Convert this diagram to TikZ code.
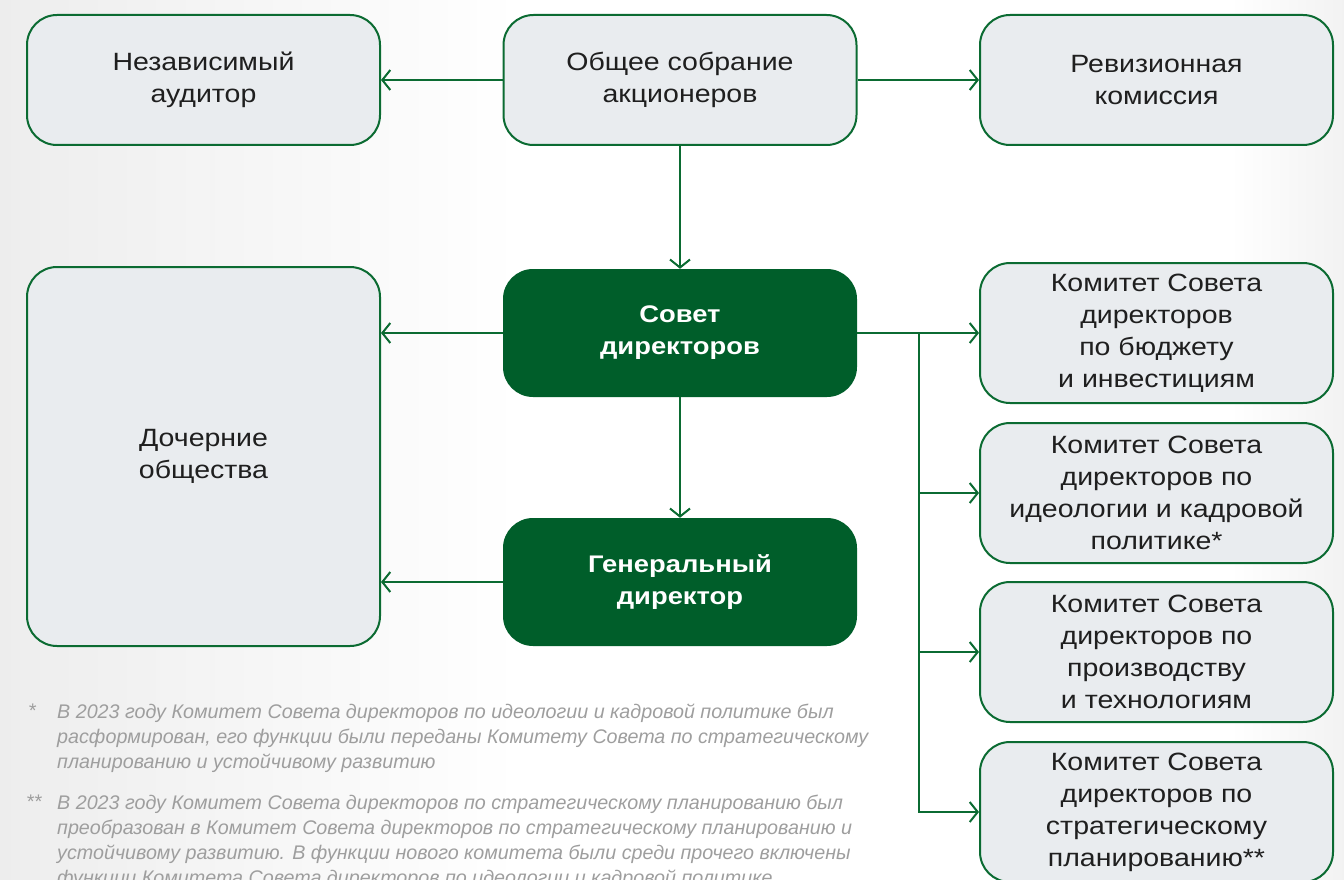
\documentclass[tikz,border=0pt]{standalone}
\usepackage{fontspec}
\setmainfont{Liberation Sans}
\newfontfamily\boxfont[FakeStretch=1.14]{Liberation Sans}
\newfontfamily\notefont{Liberation Sans}
\usetikzlibrary{arrows.meta}
\definecolor{linegreen}{HTML}{0B6B32}
\definecolor{darkgreen}{HTML}{005E2A}
\definecolor{boxfill}{HTML}{E9ECEF}
\definecolor{notegray}{HTML}{9E9E9E}

\begin{document}
\begin{tikzpicture}[x=1pt,y=-1pt,
    box/.style={draw=linegreen, line width=2pt, fill=boxfill, rounded corners=30pt,
      align=center, inner sep=0pt, text=black!88, font=\boxfont\fontsize{25}{32}\selectfont,
      minimum width=353pt},
    mainbox/.style={fill=darkgreen, rounded corners=30pt, align=center, inner sep=0pt,
      text=white, font=\boxfont\fontsize{24}{32}\selectfont\bfseries, minimum width=354pt},
    link/.style={draw=linegreen, line width=2pt,
      -{Straight Barb[length=8pt,width=20pt,line width=2pt]}},
    note/.style={anchor=north west, align=left, inner sep=0pt, text=notegray,
      font=\notefont\itshape\fontsize{19.7}{25}\selectfont}]
    \useasboundingbox (0,0) rectangle (1344,880);
    % background
    \shade[left color=black!7, right color=white] (0,0) rectangle (520,880);
    \shade[left color=white, right color=black!5] (1230,0) rectangle (1344,880);

    % top row
    \node[box, minimum height=130pt] (aud) at (203.5,80) {Независимый\\аудитор};
    \node[box, minimum height=130pt] (gms) at (680,80) {Общее собрание\\акционеров};
    \node[box, minimum height=130pt] (rev) at (1156.5,80) {Ревизионная\\комиссия};

    % middle column
    \node[mainbox, minimum height=128pt] (board) at (680,333) {Совет\\директоров};
    \node[mainbox, minimum height=128pt] (ceo) at (680,582) {Генеральный\\директор};
    \node[box, minimum height=379pt] (subs) at (203.5,456.5) {Дочерние\\общества};

    % committees
    \node[box, minimum height=140pt] (c1) at (1156.5,333) {Комитет Совета\\директоров\\по бюджету\\и инвестициям};
    \node[box, minimum height=140pt] (c2) at (1156.5,493) {Комитет Совета\\директоров по\\идеологии и кадровой\\политике*};
    \node[box, minimum height=140pt] (c3) at (1156.5,652) {Комитет Совета\\директоров по\\производству\\и технологиям};
    \node[box, minimum height=140pt] (c4) at (1156.5,812) {Комитет Совета\\директоров по\\стратегическому\\планированию**};
    \coordinate (fork) at (919,333);

    \draw[link] (gms) -- (aud);
    \draw[link] (gms) -- (rev);
    \draw[link] (gms) -- (board);
    \draw[link] (board) -- (ceo);
    \draw[link] (board.west) -- (board.west -| subs.east);
    \draw[link] (ceo.west) -- (ceo.west -| subs.east);
    \draw[link] (board.east) -- (c1.west);
    \foreach \c in {c2,c3,c4}
        \draw[link] (fork) |- (\c.west);

    % footnotes
    \node[note] (star1) at (28,704) {*};
    \node[note] (note1) at (57,704) {В 2023 году Комитет Совета директоров по идеологии и кадровой политике был\\
        расформирован, его функции были переданы Комитету Совета по стратегическому\\
        планированию и устойчивому развитию};
    \node[note] (star2) at (26,795) {**};
    \node[note] (note2) at (57,795) {В 2023 году Комитет Совета директоров по стратегическому планированию был\\
        преобразован в Комитет Совета директоров по стратегическому планированию и\\
        устойчивому развитию. В функции нового комитета были среди прочего включены\\
        функции Комитета Совета директоров по идеологии и кадровой политике};
\end{tikzpicture}
\end{document}
